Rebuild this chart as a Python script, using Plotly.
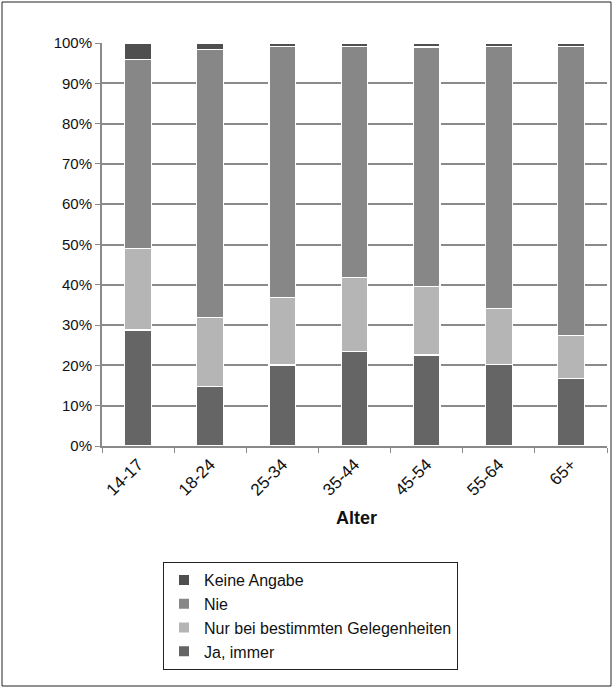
import plotly.graph_objects as go

categories = ["14-17", "18-24", "25-34", "35-44", "45-54", "55-64", "65+"]

ja_immer = [28.8, 14.7, 20.1, 23.5, 22.6, 20.3, 16.8]
nur_bei = [20.3, 17.1, 16.7, 18.4, 16.9, 13.9, 10.7]
nie = [46.9, 66.5, 62.3, 57.2, 59.5, 64.9, 71.6]
keine_angabe = [4.0, 1.7, 0.9, 0.9, 1.0, 0.9, 0.9]

series = [
    ("Ja, immer", ja_immer, "#656565"),
    ("Nur bei bestimmten Gelegenheiten", nur_bei, "#b5b5b5"),
    ("Nie", nie, "#878787"),
    ("Keine Angabe", keine_angabe, "#4f4f4f"),
]

W, H = 614, 689
L, R, T, B = 102, 7, 43, 243
pw, ph = W - L - R, H - T - B

fig = go.Figure()
for name, vals, col in series:
    fig.add_trace(go.Bar(
        x=categories, y=vals, name=name,
        marker=dict(color=col, line=dict(color="white", width=1.2)),
    ))

def px_x(p):
    return (p - L) / pw

def px_y(p):
    return (H - B - p) / ph

fig.update_layout(
    width=W, height=H,
    margin=dict(l=L, r=R, t=T, b=B),
    barmode="stack",
    bargap=0.63,
    plot_bgcolor="white",
    paper_bgcolor="white",
    font=dict(family="Liberation Sans, Arial", size=15, color="#111"),
    showlegend=True,
    legend=dict(
        traceorder="reversed",
        x=px_x(163), y=px_y(562), xanchor="left", yanchor="top",
        bordercolor="#222", borderwidth=1,
        font=dict(size=16),
        itemsizing="constant",
        tracegroupgap=0,
    ),
    xaxis=dict(
        showline=True, linecolor="#8a8a8a", linewidth=2,
        ticks="outside", tickson="boundaries", ticklen=5, tickcolor="#8a8a8a",
        tickangle=-45, tickfont=dict(size=17),
        showgrid=False,
    ),
    yaxis=dict(
        range=[0, 100], dtick=10, ticksuffix="%",
        showline=True, linecolor="#8a8a8a", linewidth=2,
        ticks="outside", ticklen=5, tickcolor="#8a8a8a",
        showgrid=True, gridcolor="#8a8a8a", gridwidth=1.5,
        tickfont=dict(size=15),
    ),
    annotations=[dict(
        text="<b>Alter</b>", x=px_x(356), y=px_y(518), xref="paper", yref="paper",
        xanchor="center", yanchor="middle",
        showarrow=False, font=dict(size=18),
    )],
    shapes=[dict(
        type="rect", xref="paper", yref="paper",
        x0=px_x(2), x1=px_x(611), y0=px_y(686), y1=px_y(2),
        line=dict(color="#222", width=1),
    )],
)

fig.write_html("out.html", config={"displayModeBar": False},
               post_script="document.body.style.margin='0px';")
